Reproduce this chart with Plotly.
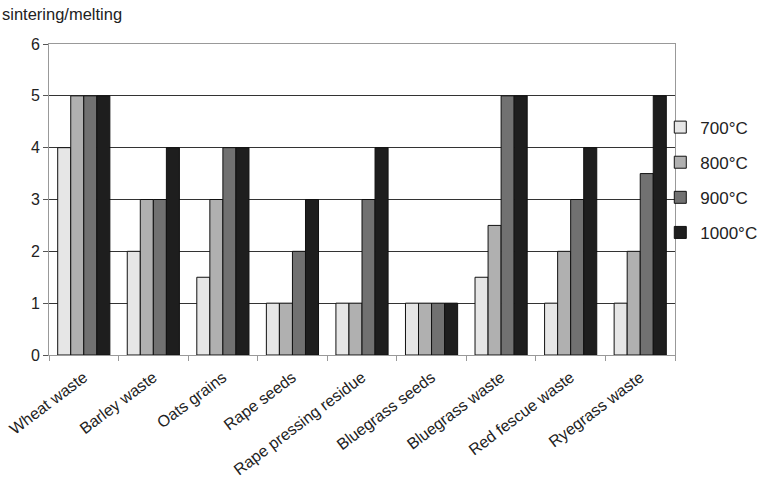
import plotly.graph_objects as go

categories = ["Wheat waste", "Barley waste", "Oats grains", "Rape seeds",
              "Rape pressing residue", "Bluegrass seeds", "Bluegrass waste",
              "Red fescue waste", "Ryegrass waste"]
series_names = ["700°C", "800°C", "900°C", "1000°C"]
v700 = [4, 2, 1.5, 1, 1, 1, 1.5, 1, 1]
v800 = [5, 3, 3, 1, 1, 1, 2.5, 2, 2]
v900 = [5, 3, 4, 2, 3, 1, 5, 3, 3.5]
v1000 = [5, 4, 4, 3, 4, 1, 5, 4, 5]
colors = ["#e6e6e6", "#b0b0b0", "#717171", "#1e1e1e"]
y_ticks = [0, 1, 2, 3, 4, 5, 6]

fig = go.Figure()
for name, vals, col in zip(series_names, [v700, v800, v900, v1000], colors):
    fig.add_trace(go.Bar(x=categories, y=vals, name=name, legendgroup=name,
                         marker=dict(color=col, line=dict(color="#111111", width=1))))

font = "Liberation Sans, Arial, sans-serif"
fig.update_layout(
    width=766, height=492,
    margin=dict(l=49, r=91, t=44, b=137, autoexpand=False),
    paper_bgcolor="white", plot_bgcolor="white",
    barmode="group", bargap=0.25, bargroupgap=0,
    font=dict(family=font, size=16, color="#222222"),
    showlegend=True,
    legend=dict(xref="container", yref="container", x=0.862, xanchor="left",
                y=0.634, yanchor="middle",
                font=dict(size=17, color="#222222"), tracegroupgap=10,
                bgcolor="rgba(0,0,0,0)", itemwidth=30),
    annotations=[dict(text="sintering/melting", xref="paper", yref="paper",
                      x=-0.078, y=1.0, xanchor="left", yanchor="bottom", yshift=19,
                      showarrow=False, font=dict(size=16.5, color="#222222"))],
)
fig.update_yaxes(range=[0, 6], tickvals=y_ticks, showgrid=True, gridcolor="#333333",
                 gridwidth=1, showline=True, linecolor="#999999", linewidth=1,
                 mirror=True, ticks="outside", ticklen=5, tickcolor="#555555",
                 zeroline=False, tickfont=dict(size=16), automargin=False)
fig.update_xaxes(showline=True, linecolor="#999999", linewidth=1, mirror=True,
                 ticks="outside", tickson="boundaries", ticklen=5, tickcolor="#999999",
                 tickangle=-37, tickfont=dict(size=16), ticklabelstandoff=6,
                 automargin=False)

fig.write_html("out.html")
